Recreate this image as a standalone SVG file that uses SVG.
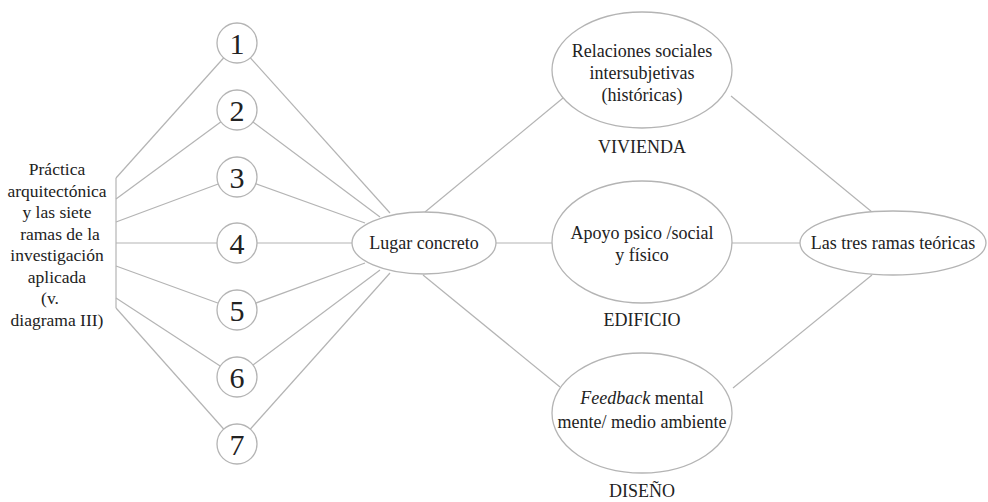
<svg xmlns="http://www.w3.org/2000/svg" width="988" height="502" viewBox="0 0 988 502">
<style>
.ln{stroke:#b4b4b4;stroke-width:1.2;fill:none}
.sh{fill:#fff;stroke:#b4b4b4;stroke-width:1.3}
.t{font-family:'Liberation Serif','DejaVu Serif',serif;font-size:18px;fill:#222;text-anchor:middle}
.s{font-size:17.5px}
.d{font-family:'Liberation Serif','DejaVu Serif',serif;font-size:30px;fill:#222;text-anchor:middle}
</style>
<rect width="988" height="502" fill="#fff"/>
<g id="connectors">
<polyline class="ln" points="116,178 116,308"/>
<line class="ln" x1="116" y1="178" x2="237" y2="43"/>
<line class="ln" x1="116" y1="199" x2="237" y2="110"/>
<line class="ln" x1="116" y1="222" x2="237" y2="177"/>
<line class="ln" x1="116" y1="243" x2="237" y2="243"/>
<line class="ln" x1="116" y1="266" x2="237" y2="310"/>
<line class="ln" x1="116" y1="298" x2="237" y2="377"/>
<line class="ln" x1="116" y1="308" x2="237" y2="444"/>
<line class="ln" x1="237" y1="43" x2="390" y2="213"/>
<line class="ln" x1="237" y1="110" x2="380" y2="217"/>
<line class="ln" x1="237" y1="177" x2="365" y2="223"/>
<line class="ln" x1="237" y1="243" x2="352" y2="243"/>
<line class="ln" x1="237" y1="310" x2="365" y2="263"/>
<line class="ln" x1="237" y1="377" x2="380" y2="270"/>
<line class="ln" x1="237" y1="444" x2="390" y2="273"/>
<line class="ln" x1="425" y1="212" x2="563" y2="98"/>
<line class="ln" x1="496" y1="243" x2="552" y2="243"/>
<line class="ln" x1="423" y1="275" x2="560" y2="387"/>
<line class="ln" x1="731" y1="96" x2="872" y2="212"/>
<line class="ln" x1="732" y1="243" x2="800" y2="243"/>
<line class="ln" x1="733" y1="388" x2="872" y2="275"/>
</g>
<g id="source">
<text class="t s" x="57" y="175">Práctica</text>
<text class="t s" x="57" y="196.5">arquitectónica</text>
<text class="t s" x="57" y="218">y las siete</text>
<text class="t s" x="60" y="239.5">ramas de la</text>
<text class="t s" x="57" y="261">investigación</text>
<text class="t s" x="57" y="282.5">aplicada</text>
<text class="t s" x="50" y="304">(v.</text>
<text class="t s" x="57" y="325.5">diagrama III)</text>
</g>
<g id="n1"><circle class="sh" cx="237" cy="43" r="20"/><text class="d" x="237" y="54">1</text></g>
<g id="n2"><circle class="sh" cx="237" cy="110" r="20"/><text class="d" x="237" y="121">2</text></g>
<g id="n3"><circle class="sh" cx="237" cy="177" r="20"/><text class="d" x="237" y="188">3</text></g>
<g id="n4"><circle class="sh" cx="237" cy="243" r="20"/><text class="d" x="237" y="254">4</text></g>
<g id="n5"><circle class="sh" cx="237" cy="310" r="20"/><text class="d" x="237" y="321">5</text></g>
<g id="n6"><circle class="sh" cx="237" cy="377" r="20"/><text class="d" x="237" y="388">6</text></g>
<g id="n7"><circle class="sh" cx="237" cy="444" r="20"/><text class="d" x="237" y="455">7</text></g>
<g id="lugar"><ellipse class="sh" cx="424" cy="243" rx="72" ry="31"/><text class="t" x="424" y="249">Lugar concreto</text></g>
<g id="vivienda">
<ellipse class="sh" cx="642" cy="70" rx="90" ry="58"/>
<text class="t" x="642" y="57">Relaciones sociales</text>
<text class="t" x="642" y="79">intersubjetivas</text>
<text class="t" x="642" y="101">(históricas)</text>
<text class="t" x="642" y="153">VIVIENDA</text>
</g>
<g id="edificio">
<ellipse class="sh" cx="642" cy="242" rx="90" ry="61"/>
<text class="t" x="642" y="239">Apoyo psico /social</text>
<text class="t" x="642" y="261">y físico</text>
<text class="t" x="642" y="326">EDIFICIO</text>
</g>
<g id="diseno">
<ellipse class="sh" cx="642" cy="413" rx="90" ry="60"/>
<text class="t" x="642" y="404"><tspan font-style="italic">Feedback</tspan> mental</text>
<text class="t" x="642" y="428">mente/ medio ambiente</text>
<text class="t" x="642" y="497">DISEÑO</text>
</g>
<g id="ramas"><ellipse class="sh" cx="893" cy="243" rx="93" ry="32"/><text class="t" x="893" y="249">Las tres ramas teóricas</text></g>
</svg>
